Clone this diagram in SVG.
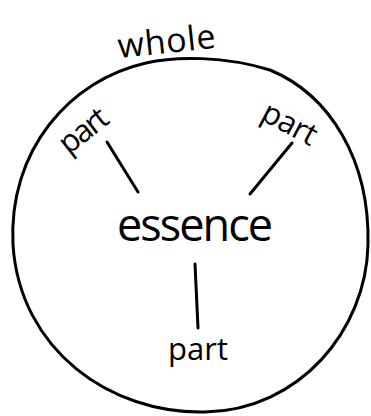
<svg xmlns="http://www.w3.org/2000/svg" width="371" height="416" viewBox="0 0 371 416">
<style>
.t{font-family:"Open Sans","DejaVu Sans",sans-serif;fill:#000}
.s{fill:none;stroke:#000;stroke-width:3;stroke-linecap:round}
</style>
<rect width="371" height="416" fill="#fff"/>
<g id="whole">
<path class="s" d="M146,63 C175,56 225,56 270,70 C330,95 370,160 368,245 C366,330 300,410 205,412 C110,414 20,350 13,245 C8,150 70,80 146,63 Z"/>
<text class="t" x="167" y="53" font-size="34" text-anchor="middle" transform="rotate(-6 167 45)" textLength="98">whole</text>
</g>
<g id="essence">
<text class="t" x="195" y="241" font-size="45" text-anchor="middle" textLength="156" lengthAdjust="spacing">essence</text>
</g>
<g id="part-left">
<text class="t" x="83" y="141" font-size="31" text-anchor="middle" transform="rotate(-38 83 130)" textLength="54">part</text>
</g>
<g id="part-right">
<text class="t" x="290" y="134" font-size="31" text-anchor="middle" transform="rotate(28 290 123)" textLength="58">part</text>
</g>
<g id="part-bottom">
<text class="t" x="198" y="360" font-size="31" text-anchor="middle" textLength="60">part</text>
</g>
<g id="connectors">
<line class="s" x1="107" y1="142" x2="138" y2="192"/>
<line class="s" x1="292" y1="143" x2="250" y2="194"/>
<line class="s" x1="195" y1="264" x2="198" y2="328"/>
</g>
</svg>
